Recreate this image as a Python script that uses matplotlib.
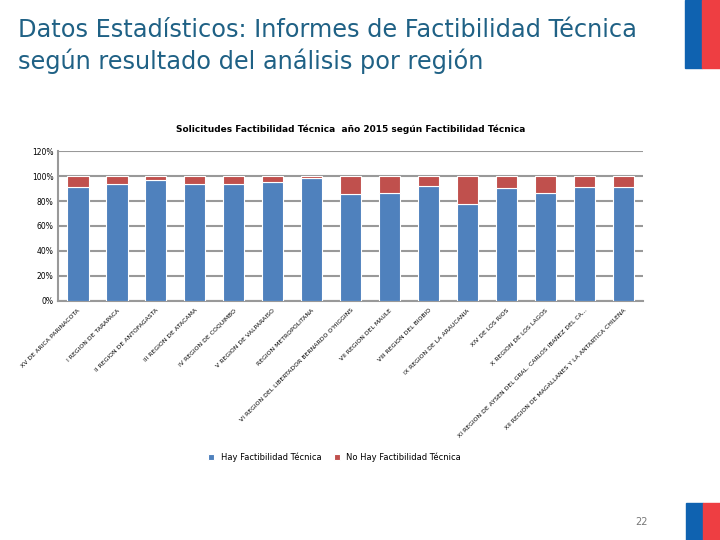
import numpy as np
import matplotlib.pyplot as plt
from matplotlib.patches import Rectangle
from matplotlib.ticker import PercentFormatter

## datos
regiones = [
    "XV DE ARICA PARINACOTA",
    "I REGION DE TARAPACA",
    "II REGION DE ANTOFAGASTA",
    "III REGION DE ATACAMA",
    "IV REGION DE COQUIMBO",
    "V REGION DE VALPARAISO",
    "REGION METROPOLITANA",
    "VI REGION DEL LIBERTADOR BERNARDO O'HIGGINS",
    "VII REGION DEL MAULE",
    "VIII REGION DEL BIOBIO",
    "IX REGION DE LA ARAUCANIA",
    "XIV DE LOS RIOS",
    "X REGION DE LOS LAGOS",
    "XI REGION DE AYSEN DEL GRAL. CARLOS IBAÑEZ DEL CA...",
    "XII REGION DE MAGALLANES Y LA ANTARTICA CHILENA",
]
hay_fact = [91.5, 93.9, 97.1, 93.6, 93.9, 95.5, 98.7, 85.5, 86.6, 92.3, 77.8, 90.7, 86.6, 91.5, 91.5]
no_fact = [100 - v for v in hay_fact]

azul = "#4F81BD"
rojo = "#C0504D"

fig = plt.figure(figsize=(7.2, 5.4), dpi=100)

## titulo de la diapositiva
fig.text(0.025, 1 - 46/540, "Datos Estadísticos: Informes de Factibilidad Técnica\nsegún resultado del análisis por región",
         fontsize=17.3, color="#1F6185", va="center", ha="left", linespacing=1.3)

## bandera arriba y abajo a la derecha
fig.patches.append(Rectangle((685/720, 1 - 68/540), 17/720, 68/540, transform=fig.transFigure, color="#0F62B0"))
fig.patches.append(Rectangle((702/720, 1 - 68/540), 18/720, 68/540, transform=fig.transFigure, color="#EE3E42"))
fig.patches.append(Rectangle((686/720, 0), 17/720, 37/540, transform=fig.transFigure, color="#0F62B0"))
fig.patches.append(Rectangle((703/720, 0), 17/720, 37/540, transform=fig.transFigure, color="#EE3E42"))
fig.text(648/720, 1 - 522/540, "22", fontsize=7, color="#777777", ha="right", va="center")

ax = fig.add_axes([0.081, 0.443, 0.812, 0.277])
x = np.arange(len(regiones))
ax.bar(x, hay_fact, width=0.55, color=azul, edgecolor="white", linewidth=0.8, label="Hay Factibilidad Técnica", zorder=3)
ax.bar(x, no_fact, width=0.55, bottom=hay_fact, color=rojo, edgecolor="white", linewidth=0.8, label="No Hay Factibilidad Técnica", zorder=3)

ax.set_ylim(0, 120)
ax.set_yticks(range(0, 121, 20))
ax.yaxis.set_major_formatter(PercentFormatter(decimals=0))
ax.set_xlim(-0.5, len(regiones) - 0.5)
ax.grid(axis="y", color="#999999", linewidth=1.5, zorder=0)
for s in ["top", "right"]:
    ax.spines[s].set_visible(False)
ax.spines["left"].set_color("#999999")
ax.spines["bottom"].set_color("#999999")
ax.spines["left"].set_linewidth(1.5)
ax.spines["bottom"].set_linewidth(1.5)
ax.tick_params(axis="both", length=0, labelsize=5.5)
ax.tick_params(axis="x", pad=5)
ax.set_xticks(x)
ax.set_xticklabels(regiones, rotation=45, ha="right", rotation_mode="anchor", fontsize=4.4)

ax.set_title("Solicitudes Factibilidad Técnica  año 2015 según Factibilidad Técnica", fontsize=6.5, fontweight="bold", pad=14)

fig.legend(loc="center", bbox_to_anchor=(0.465, 1 - 457/540), ncol=2, fontsize=6, frameon=False,
           handlelength=0.7, handleheight=0.7, columnspacing=1.5)

plt.savefig("out.png")
